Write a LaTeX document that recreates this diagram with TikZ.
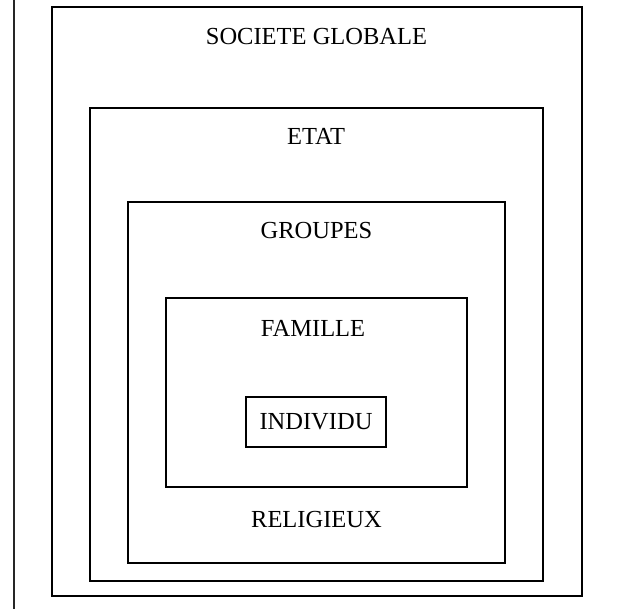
\documentclass[tikz,border=0pt]{standalone}
\usepackage{fontspec}
\setmainfont{Liberation Serif}
\begin{document}
\begin{tikzpicture}[x=1pt,y=-1pt,
  frame/.style={draw=black,line width=1.6pt,inner sep=0pt,outer sep=0pt,fill=none},
  lbl/.style={inner sep=0pt,font=\fontsize{24.5}{29}\selectfont}]
\useasboundingbox (0,0) rectangle (617,609);
\fill[white] (0,0) rectangle (617,609);
% scan edge line at the left
\coordinate (et) at (14,0);
\coordinate (eb) at (14,609);
\draw[line width=1.2pt,black!85] (et) -- (eb);
% nested frames
\node[frame,minimum width=530pt,minimum height=589pt] (soc) at (317,301.5) {};
\node[frame,minimum width=453pt,minimum height=473pt] (etat) at (316.5,344.5) {};
\node[frame,minimum width=377pt,minimum height=361pt] (grp) at (316.5,382.5) {};
\node[frame,minimum width=301pt,minimum height=189pt] (fam) at (316.5,392.5) {};
\node[frame,minimum width=140pt,minimum height=50pt,font=\fontsize{24.5}{29}\selectfont] (ind) at (316,422) {INDIVIDU};
% labels
\node[lbl] (tsoc) at (316.5,37) {SOCIETE GLOBALE};
\node[lbl] (tetat) at (316,136) {ETAT};
\node[lbl] (tgrp) at (316.5,231) {GROUPES};
\node[lbl] (tfam) at (313,328) {FAMILLE};
\node[lbl] (trel) at (316.5,520) {RELIGIEUX};
\end{tikzpicture}
\end{document}
